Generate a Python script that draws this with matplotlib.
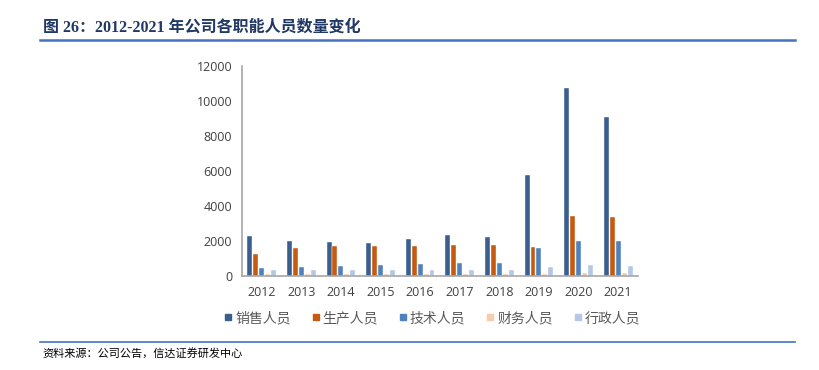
import numpy as np
import matplotlib.pyplot as plt
from matplotlib.lines import Line2D

years = ["2012", "2013", "2014", "2015", "2016", "2017", "2018", "2019", "2020", "2021"]
series_names = ["销售人员", "生产人员", "技术人员", "财务人员", "行政人员"]
sales = [2270, 1985, 1950, 1870, 2140, 2350, 2230, 5780, 10725, 9100]
production = [1240, 1585, 1700, 1720, 1735, 1775, 1775, 1640, 3400, 3360]
tech = [480, 515, 555, 610, 670, 725, 725, 1585, 1985, 1985]
finance = [100, 100, 100, 100, 130, 130, 100, 130, 170, 170]
admin = [320, 320, 320, 360, 320, 320, 360, 515, 610, 570]
colors = ["#3A5F8F", "#C55A11", "#4F81BD", "#F8CBAD", "#B4C7E7"]

fig = plt.figure(figsize=(8.2, 3.7), dpi=100)
cjk = ["Noto Sans CJK SC", "DejaVu Sans"]

# title and frame lines
fig.text(0.052, 0.925, "图 26：2012-2021 年公司各职能人员数量变化",
         family=["Liberation Serif", "Noto Sans CJK SC"], fontweight="bold",
         fontsize=11.5, color="#1F3864", va="center")
fig.add_artist(Line2D([0.049, 0.970], [0.893, 0.893], color="#4472C4", lw=1.8))
fig.add_artist(Line2D([0.049, 0.970], [0.075, 0.075], color="#4472C4", lw=1.2))
fig.text(0.052, 0.045, "资料来源：公司公告，信达证券研发中心", family=cjk,
         fontsize=8, color="black", va="center", style="italic")

ax = fig.add_axes([0.295, 0.254, 0.483, 0.568])
x = np.arange(len(years))
data = [sales, production, tech, finance, admin]
w = 0.125
step = 0.15
for i, (vals, c, name) in enumerate(zip(data, colors, series_names)):
    ax.bar(x + (i - 2) * step, vals, width=w, color=c, label=name,
           edgecolor="white", linewidth=0.3)

ax.set_xlim(-0.5, len(years) - 0.5)
ax.set_ylim(0, 12000)
ax.set_yticks(range(0, 12001, 2000))
ax.set_xticks(x)
ax.set_xticklabels(years)
for s in ["top", "right"]:
    ax.spines[s].set_visible(False)
for s in ["left", "bottom"]:
    ax.spines[s].set_color("#A6A6A6")
    ax.spines[s].set_linewidth(1.2)
ax.tick_params(length=0, labelsize=9, colors="#404040", pad=7)
for lab in ax.get_xticklabels() + ax.get_yticklabels():
    lab.set_family(["Open Sans", "DejaVu Sans"])

handles = [Line2D([], [], marker="s", ls="", color=c, markersize=5) for c in colors]
leg = fig.legend(handles, series_names, loc="center", bbox_to_anchor=(0.527, 0.14),
                 ncol=5, frameon=False, handlelength=0.6, handletextpad=0.2,
                 columnspacing=1.5, prop={"family": cjk, "size": 10})
for t in leg.get_texts():
    t.set_color("#595959")

fig.savefig("out.png", dpi=100)
